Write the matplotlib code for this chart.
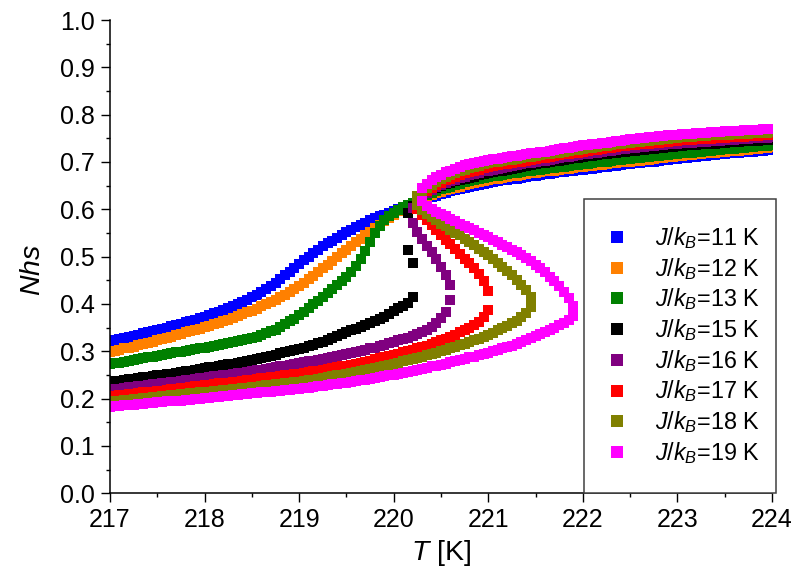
import numpy as np
import matplotlib
matplotlib.use("Agg")
import matplotlib.pyplot as plt
from matplotlib.patches import Rectangle
from matplotlib.ticker import MultipleLocator, FormatStrFormatter

plt.rcParams['font.family'] = ['Liberation Sans', 'DejaVu Sans']
plt.rcParams['mathtext.fontset'] = 'custom'
plt.rcParams['mathtext.rm'] = 'Liberation Sans'
plt.rcParams['mathtext.it'] = 'Liberation Sans:italic'
plt.rcParams['mathtext.bf'] = 'Liberation Sans:bold'

# temperature grid of the simulation
T_MIN, T_MAX, T_STEP = 217.0, 224.0, 0.05

labels = [r'$J/k_B$=11 K', r'$J/k_B$=12 K', r'$J/k_B$=13 K', r'$J/k_B$=15 K',
          r'$J/k_B$=16 K', r'$J/k_B$=17 K', r'$J/k_B$=18 K', r'$J/k_B$=19 K']
colors = ['#0000FF', '#FF8000', '#008000', '#000000',
          '#800080', '#FF0000', '#808000', '#FF00FF']

# end of the low-spin branch (spinodal on heating) and start of the high-spin branch
t_up = [220.20, 220.20, 220.20, 220.20, 220.60, 221.00, 221.45, 221.90]
t_down = [220.25, 220.25, 220.25, 220.15, 220.20, 220.25, 220.25, 220.30]

# ---- J/kB = 11 K
nhs11_low = [0.322, 0.324, 0.326, 0.329, 0.331, 0.333, 0.335, 0.338, 0.340, 0.343,
             0.345, 0.348, 0.350, 0.353, 0.355, 0.358, 0.361, 0.364, 0.367, 0.370,
             0.373, 0.376, 0.380, 0.383, 0.387, 0.391, 0.395, 0.400, 0.404, 0.409,
             0.414, 0.420, 0.426, 0.432, 0.438, 0.445, 0.453, 0.461, 0.468, 0.476,
             0.484, 0.492, 0.500, 0.507, 0.515, 0.522, 0.528, 0.534, 0.540, 0.546,
             0.552, 0.557, 0.562, 0.567, 0.572, 0.577, 0.581, 0.585, 0.589, 0.593,
             0.597, 0.601, 0.605, 0.608, 0.612]
nhs11_mid = []
nhs11_up = [0.615, 0.619, 0.622, 0.626, 0.629, 0.632, 0.635, 0.638, 0.641, 0.643,
            0.646, 0.648, 0.650, 0.652, 0.654, 0.656, 0.658, 0.659, 0.661, 0.662,
            0.664, 0.665, 0.667, 0.668, 0.670, 0.671, 0.672, 0.674, 0.675, 0.676,
            0.678, 0.679, 0.680, 0.682, 0.683, 0.684, 0.685, 0.686, 0.688, 0.689,
            0.690, 0.691, 0.692, 0.694, 0.695, 0.696, 0.697, 0.698, 0.699, 0.700,
            0.701, 0.703, 0.704, 0.705, 0.706, 0.707, 0.708, 0.709, 0.710, 0.711,
            0.712, 0.713, 0.714, 0.715, 0.716, 0.717, 0.718, 0.719, 0.720, 0.721,
            0.722, 0.722, 0.723, 0.724, 0.725, 0.726]

# ---- J/kB = 12 K
nhs12_low = [0.299, 0.301, 0.303, 0.306, 0.308, 0.310, 0.313, 0.315, 0.318, 0.320,
             0.323, 0.326, 0.328, 0.331, 0.334, 0.337, 0.340, 0.342, 0.345, 0.348,
             0.351, 0.354, 0.357, 0.360, 0.364, 0.367, 0.371, 0.374, 0.378, 0.382,
             0.386, 0.390, 0.395, 0.399, 0.404, 0.409, 0.415, 0.420, 0.426, 0.432,
             0.438, 0.445, 0.452, 0.460, 0.467, 0.475, 0.483, 0.491, 0.499, 0.507,
             0.515, 0.523, 0.530, 0.538, 0.545, 0.553, 0.560, 0.567, 0.575, 0.582,
             0.589, 0.596, 0.602, 0.608, 0.614]
nhs12_mid = []
nhs12_up = [0.619, 0.623, 0.627, 0.630, 0.634, 0.637, 0.640, 0.643, 0.646, 0.648,
            0.651, 0.653, 0.655, 0.658, 0.660, 0.662, 0.664, 0.665, 0.667, 0.668,
            0.670, 0.671, 0.673, 0.674, 0.676, 0.677, 0.678, 0.680, 0.681, 0.682,
            0.684, 0.685, 0.686, 0.687, 0.689, 0.690, 0.691, 0.692, 0.693, 0.694,
            0.696, 0.697, 0.698, 0.699, 0.700, 0.701, 0.702, 0.703, 0.704, 0.705,
            0.707, 0.708, 0.709, 0.710, 0.711, 0.712, 0.713, 0.714, 0.715, 0.716,
            0.717, 0.718, 0.719, 0.720, 0.721, 0.722, 0.723, 0.724, 0.724, 0.725,
            0.726, 0.727, 0.728, 0.729, 0.730, 0.731]

# ---- J/kB = 13 K
nhs13_low = [0.273, 0.275, 0.276, 0.278, 0.280, 0.282, 0.284, 0.285, 0.287, 0.289,
             0.291, 0.293, 0.294, 0.296, 0.298, 0.299, 0.301, 0.303, 0.305, 0.306,
             0.308, 0.310, 0.312, 0.314, 0.316, 0.318, 0.320, 0.322, 0.324, 0.326,
             0.328, 0.331, 0.334, 0.338, 0.342, 0.346, 0.351, 0.357, 0.363, 0.369,
             0.376, 0.383, 0.391, 0.399, 0.407, 0.415, 0.423, 0.431, 0.440, 0.448,
             0.457, 0.468, 0.480, 0.495, 0.511, 0.531, 0.550, 0.565, 0.577, 0.585,
             0.592, 0.598, 0.604, 0.609, 0.614]
nhs13_mid = []
nhs13_up = [0.620, 0.625, 0.630, 0.634, 0.638, 0.642, 0.645, 0.648, 0.651, 0.654,
            0.657, 0.659, 0.662, 0.664, 0.666, 0.668, 0.670, 0.671, 0.673, 0.674,
            0.676, 0.677, 0.679, 0.680, 0.682, 0.683, 0.684, 0.686, 0.687, 0.688,
            0.689, 0.690, 0.692, 0.693, 0.694, 0.695, 0.696, 0.698, 0.699, 0.700,
            0.701, 0.702, 0.704, 0.705, 0.706, 0.707, 0.708, 0.709, 0.710, 0.711,
            0.712, 0.713, 0.714, 0.715, 0.716, 0.717, 0.718, 0.719, 0.720, 0.721,
            0.722, 0.723, 0.724, 0.725, 0.726, 0.727, 0.728, 0.728, 0.729, 0.730,
            0.731, 0.732, 0.733, 0.733, 0.734, 0.735]

# ---- J/kB = 15 K
nhs15_low = [0.236, 0.237, 0.238, 0.240, 0.241, 0.242, 0.244, 0.245, 0.246, 0.248,
             0.249, 0.250, 0.252, 0.253, 0.255, 0.256, 0.258, 0.259, 0.261, 0.262,
             0.264, 0.266, 0.267, 0.269, 0.271, 0.273, 0.274, 0.276, 0.278, 0.280,
             0.282, 0.284, 0.286, 0.289, 0.291, 0.293, 0.296, 0.298, 0.300, 0.303,
             0.305, 0.308, 0.311, 0.314, 0.317, 0.320, 0.324, 0.328, 0.332, 0.336,
             0.340, 0.344, 0.348, 0.351, 0.355, 0.359, 0.364, 0.368, 0.373, 0.379,
             0.385, 0.391, 0.396, 0.403, 0.414]
nhs15_mid = [0.486, 0.514]
nhs15_up = [0.592, 0.608, 0.619, 0.628, 0.634, 0.640, 0.645, 0.650, 0.653, 0.656,
            0.659, 0.662, 0.664, 0.667, 0.669, 0.672, 0.674, 0.676, 0.678, 0.680,
            0.682, 0.684, 0.686, 0.688, 0.690, 0.692, 0.693, 0.695, 0.697, 0.698,
            0.700, 0.702, 0.703, 0.705, 0.706, 0.708, 0.709, 0.711, 0.712, 0.713,
            0.715, 0.716, 0.717, 0.718, 0.720, 0.721, 0.722, 0.723, 0.724, 0.725,
            0.726, 0.727, 0.728, 0.729, 0.730, 0.731, 0.732, 0.733, 0.734, 0.735,
            0.735, 0.736, 0.737, 0.738, 0.739, 0.739, 0.740, 0.741, 0.742, 0.742,
            0.743, 0.744, 0.744, 0.745, 0.745, 0.746, 0.746, 0.747]

# ---- J/kB = 16 K
nhs16_low = [0.219, 0.220, 0.221, 0.223, 0.224, 0.225, 0.226, 0.227, 0.229, 0.230,
             0.231, 0.232, 0.234, 0.235, 0.236, 0.238, 0.239, 0.240, 0.241, 0.243,
             0.244, 0.245, 0.247, 0.248, 0.250, 0.251, 0.252, 0.254, 0.255, 0.257,
             0.258, 0.260, 0.261, 0.263, 0.265, 0.266, 0.268, 0.270, 0.272, 0.273,
             0.275, 0.277, 0.279, 0.280, 0.282, 0.284, 0.286, 0.288, 0.290, 0.292,
             0.294, 0.296, 0.299, 0.301, 0.303, 0.306, 0.308, 0.311, 0.314, 0.317,
             0.320, 0.323, 0.326, 0.329, 0.333, 0.337, 0.341, 0.346, 0.352, 0.360,
             0.370, 0.384, 0.408]
nhs16_mid = [0.440, 0.462, 0.478, 0.494, 0.509, 0.523, 0.538, 0.553, 0.572]
nhs16_up = [0.603, 0.617, 0.627, 0.634, 0.641, 0.647, 0.652, 0.656, 0.660, 0.663,
            0.666, 0.669, 0.672, 0.675, 0.677, 0.680, 0.682, 0.684, 0.686, 0.688,
            0.689, 0.691, 0.693, 0.695, 0.697, 0.698, 0.700, 0.702, 0.703, 0.705,
            0.706, 0.708, 0.710, 0.711, 0.713, 0.714, 0.716, 0.717, 0.719, 0.720,
            0.721, 0.723, 0.724, 0.725, 0.727, 0.728, 0.729, 0.730, 0.731, 0.732,
            0.733, 0.734, 0.735, 0.736, 0.737, 0.738, 0.739, 0.740, 0.740, 0.741,
            0.742, 0.743, 0.743, 0.744, 0.745, 0.745, 0.746, 0.747, 0.747, 0.748,
            0.749, 0.749, 0.750, 0.750, 0.751, 0.751, 0.752]

# ---- J/kB = 17 K
nhs17_low = [0.205, 0.206, 0.207, 0.208, 0.209, 0.210, 0.212, 0.213, 0.214, 0.215,
             0.216, 0.217, 0.218, 0.220, 0.221, 0.222, 0.223, 0.224, 0.226, 0.227,
             0.228, 0.229, 0.230, 0.232, 0.233, 0.234, 0.235, 0.236, 0.238, 0.239,
             0.240, 0.241, 0.243, 0.244, 0.245, 0.246, 0.248, 0.249, 0.250, 0.252,
             0.253, 0.255, 0.256, 0.258, 0.259, 0.261, 0.263, 0.264, 0.266, 0.268,
             0.270, 0.272, 0.274, 0.276, 0.278, 0.280, 0.283, 0.285, 0.288, 0.290,
             0.293, 0.295, 0.298, 0.300, 0.303, 0.306, 0.309, 0.312, 0.315, 0.319,
             0.323, 0.327, 0.331, 0.335, 0.340, 0.345, 0.350, 0.355, 0.362, 0.373,
             0.388]
nhs17_mid = [0.428, 0.449, 0.463, 0.476, 0.486, 0.496, 0.506, 0.516, 0.526, 0.536,
             0.546, 0.557, 0.567, 0.577, 0.587, 0.600]
nhs17_up = [0.623, 0.632, 0.639, 0.645, 0.651, 0.656, 0.661, 0.665, 0.669, 0.673,
            0.676, 0.679, 0.682, 0.684, 0.687, 0.689, 0.691, 0.693, 0.695, 0.696,
            0.698, 0.700, 0.701, 0.703, 0.704, 0.706, 0.708, 0.709, 0.711, 0.712,
            0.714, 0.716, 0.717, 0.719, 0.720, 0.722, 0.723, 0.725, 0.726, 0.727,
            0.729, 0.730, 0.731, 0.733, 0.734, 0.735, 0.736, 0.737, 0.738, 0.739,
            0.740, 0.741, 0.742, 0.743, 0.744, 0.745, 0.746, 0.746, 0.747, 0.748,
            0.748, 0.749, 0.749, 0.750, 0.750, 0.751, 0.752, 0.752, 0.753, 0.753,
            0.754, 0.755, 0.755, 0.756, 0.756, 0.757]

# ---- J/kB = 18 K
nhs18_low = [0.194, 0.195, 0.196, 0.197, 0.198, 0.199, 0.200, 0.201, 0.202, 0.203,
             0.204, 0.205, 0.206, 0.207, 0.208, 0.209, 0.210, 0.211, 0.212, 0.213,
             0.214, 0.215, 0.216, 0.217, 0.218, 0.219, 0.220, 0.221, 0.222, 0.223,
             0.224, 0.225, 0.226, 0.228, 0.229, 0.230, 0.231, 0.232, 0.233, 0.235,
             0.236, 0.237, 0.239, 0.240, 0.242, 0.244, 0.245, 0.247, 0.249, 0.251,
             0.253, 0.255, 0.257, 0.259, 0.261, 0.263, 0.265, 0.267, 0.270, 0.272,
             0.274, 0.276, 0.279, 0.281, 0.284, 0.286, 0.289, 0.292, 0.294, 0.297,
             0.300, 0.303, 0.306, 0.309, 0.313, 0.316, 0.320, 0.323, 0.327, 0.331,
             0.335, 0.339, 0.344, 0.349, 0.354, 0.359, 0.365, 0.372, 0.381, 0.394]
nhs18_mid = [0.415, 0.430, 0.441, 0.451, 0.461, 0.470, 0.479, 0.487, 0.495, 0.503,
             0.510, 0.517, 0.525, 0.532, 0.538, 0.545, 0.551, 0.557, 0.564, 0.570,
             0.577, 0.584, 0.591, 0.598, 0.609]
nhs18_up = [0.628, 0.638, 0.645, 0.652, 0.658, 0.664, 0.669, 0.673, 0.677, 0.681,
            0.684, 0.687, 0.690, 0.692, 0.695, 0.697, 0.699, 0.700, 0.702, 0.704,
            0.705, 0.707, 0.708, 0.710, 0.711, 0.713, 0.714, 0.716, 0.717, 0.719,
            0.720, 0.722, 0.723, 0.725, 0.726, 0.728, 0.729, 0.730, 0.732, 0.733,
            0.734, 0.736, 0.737, 0.738, 0.740, 0.741, 0.742, 0.743, 0.744, 0.745,
            0.746, 0.747, 0.748, 0.749, 0.750, 0.751, 0.752, 0.752, 0.753, 0.754,
            0.755, 0.755, 0.756, 0.757, 0.757, 0.758, 0.758, 0.759, 0.759, 0.760,
            0.760, 0.761, 0.761, 0.762, 0.762, 0.763]

# ---- J/kB = 19 K
nhs19_low = [0.183, 0.184, 0.185, 0.186, 0.187, 0.187, 0.188, 0.189, 0.190, 0.191,
             0.192, 0.193, 0.194, 0.195, 0.196, 0.196, 0.197, 0.198, 0.199, 0.200,
             0.201, 0.202, 0.203, 0.204, 0.205, 0.206, 0.207, 0.208, 0.209, 0.210,
             0.211, 0.212, 0.213, 0.214, 0.215, 0.216, 0.217, 0.218, 0.219, 0.220,
             0.221, 0.222, 0.223, 0.224, 0.226, 0.227, 0.228, 0.230, 0.231, 0.233,
             0.234, 0.236, 0.237, 0.239, 0.240, 0.242, 0.244, 0.246, 0.247, 0.249,
             0.251, 0.253, 0.255, 0.257, 0.259, 0.261, 0.263, 0.265, 0.268, 0.270,
             0.272, 0.274, 0.277, 0.279, 0.282, 0.284, 0.287, 0.289, 0.292, 0.294,
             0.297, 0.300, 0.303, 0.306, 0.309, 0.312, 0.316, 0.320, 0.324, 0.328,
             0.333, 0.337, 0.341, 0.345, 0.350, 0.355, 0.360, 0.366, 0.374]
nhs19_mid = [0.395, 0.412, 0.426, 0.438, 0.449, 0.458, 0.467, 0.475, 0.483, 0.490,
             0.497, 0.503, 0.509, 0.514, 0.520, 0.525, 0.531, 0.536, 0.541, 0.546,
             0.551, 0.556, 0.561, 0.565, 0.570, 0.575, 0.580, 0.585, 0.590, 0.595,
             0.600, 0.607, 0.618]
nhs19_up = [0.645, 0.654, 0.662, 0.668, 0.673, 0.678, 0.682, 0.686, 0.690, 0.693,
            0.695, 0.698, 0.700, 0.702, 0.704, 0.706, 0.707, 0.709, 0.710, 0.712,
            0.713, 0.715, 0.716, 0.718, 0.719, 0.721, 0.722, 0.724, 0.725, 0.727,
            0.729, 0.730, 0.732, 0.733, 0.735, 0.736, 0.737, 0.739, 0.740, 0.741,
            0.743, 0.744, 0.745, 0.747, 0.748, 0.749, 0.750, 0.751, 0.752, 0.753,
            0.754, 0.755, 0.756, 0.757, 0.758, 0.759, 0.759, 0.760, 0.761, 0.762,
            0.762, 0.763, 0.764, 0.764, 0.765, 0.765, 0.766, 0.766, 0.767, 0.767,
            0.768, 0.768, 0.769, 0.769, 0.770]

branches = [
    (nhs11_low, nhs11_mid, nhs11_up),
    (nhs12_low, nhs12_mid, nhs12_up),
    (nhs13_low, nhs13_mid, nhs13_up),
    (nhs15_low, nhs15_mid, nhs15_up),
    (nhs16_low, nhs16_mid, nhs16_up),
    (nhs17_low, nhs17_mid, nhs17_up),
    (nhs18_low, nhs18_mid, nhs18_up),
    (nhs19_low, nhs19_mid, nhs19_up),
]

DPI = 100
W, H = 793, 577
fig = plt.figure(figsize=(W / DPI, H / DPI), dpi=DPI)
# axes box in pixels: x 110..772, y 20..493
ax = fig.add_axes([110 / W, 1 - 493.3 / H, 662 / W, 473.3 / H])

MS = 10 * 72 / DPI   # 10 px squares
for (low, mid, up), tu, td, col in zip(branches, t_up, t_down, colors):
    T_low = T_MIN + T_STEP * np.arange(len(low))
    T_mid = tu - T_STEP * np.arange(len(mid))
    T_up = td + T_STEP * np.arange(len(up))
    assert abs(T_low[-1] - tu) < 1e-6, (tu, T_low[-1])
    assert abs(T_up[-1] - T_MAX) < 1e-6, (td, T_up[-1])
    T = np.concatenate([T_low, T_mid, T_up])
    n = np.concatenate([low, mid, up])
    ax.plot(T, n, linestyle='none', marker='s', markersize=MS,
            markeredgewidth=0, color=col)

ax.set_xlim(T_MIN, T_MAX)
ax.set_ylim(0.0, 1.0)
ax.xaxis.set_major_locator(MultipleLocator(1))
ax.xaxis.set_minor_locator(MultipleLocator(0.5))
ax.yaxis.set_major_locator(MultipleLocator(0.1))
ax.yaxis.set_minor_locator(MultipleLocator(0.05))
ax.yaxis.set_major_formatter(FormatStrFormatter('%.1f'))
ax.xaxis.set_major_formatter(FormatStrFormatter('%d'))

for s in ('top', 'right'):
    ax.spines[s].set_visible(False)
for s in ('left', 'bottom'):
    ax.spines[s].set_linewidth(1.1)
ax.tick_params(which='major', direction='out', length=6.8, width=1.0,
               labelsize=18, pad=4)
ax.tick_params(which='minor', direction='out', length=3.2, width=1.0)

fig.text(441 / W, 1 - 553 / H, r'$T$ [K]', fontsize=20.5, ha='center', va='center')
fig.text(33 / W, 1 - 270 / H, r'$Nhs$', fontsize=20.5, ha='center', va='center',
         rotation=90)

# legend box drawn in axes pixels
def ax_xy(px, py):
    return (px - 110) / 662, (493.3 - py) / 473.3

x0, y1 = ax_xy(584, 199)
x1, y0 = ax_xy(776, 493.3)
ax.add_patch(Rectangle((x0, y0), x1 - x0, y1 - y0, transform=ax.transAxes,
                       facecolor='white', edgecolor='#404040', linewidth=1.1,
                       clip_on=False, zorder=10))
for i, (lab, col) in enumerate(zip(labels, colors)):
    py = 237 + 30.7 * i
    mx, my = ax_xy(617, py)
    ax.plot([mx], [my], marker='s', markersize=11.5 * 72 / DPI, markeredgewidth=0,
            color=col, transform=ax.transAxes, clip_on=False, zorder=11)
    tx, ty = ax_xy(655, py + 8)
    ax.text(tx, ty, lab, transform=ax.transAxes, fontsize=16.8, ha='left',
            va='baseline', zorder=11)

fig.savefig('out.png', dpi=DPI)
